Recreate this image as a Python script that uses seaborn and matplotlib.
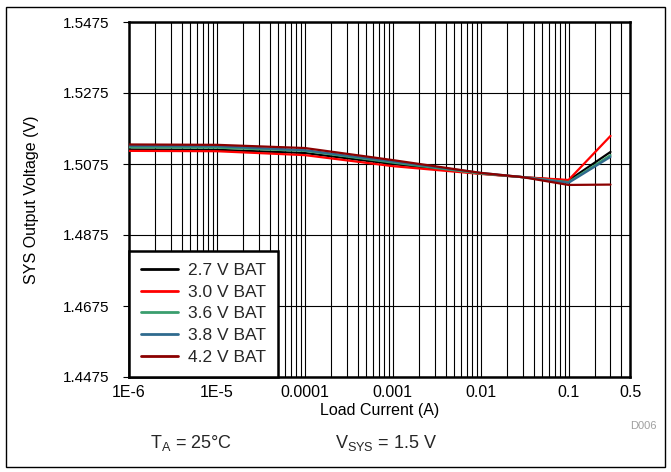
import numpy as np
import pandas as pd
import seaborn as sns
import matplotlib
matplotlib.use("Agg")
import matplotlib.pyplot as plt
from matplotlib.ticker import FixedLocator, NullFormatter, LogLocator
from matplotlib.patches import Rectangle

# ---- data ----
current = [1e-6, 1e-5, 1e-4, 1e-3, 1e-2, 3e-2, 0.1, 0.3]
v_27 = [1.5116, 1.5115, 1.5106, 1.5075, 1.5048, 1.5038, 1.50285, 1.5109]
v_30 = [1.5112, 1.5111, 1.5100, 1.5069, 1.5047, 1.5038, 1.5030, 1.5154]
v_36 = [1.5122, 1.5121, 1.5112, 1.5079, 1.5048, 1.5038, 1.5024, 1.5100]
v_38 = [1.5126, 1.5125, 1.5114, 1.5082, 1.5050, 1.5038, 1.5022, 1.5095]
v_42 = [1.5130, 1.5129, 1.5120, 1.5086, 1.5050, 1.5038, 1.5016, 1.5017]
series_labels = ["2.7 V BAT", "3.0 V BAT", "3.6 V BAT", "3.8 V BAT", "4.2 V BAT"]
colors = ["#000000", "#FF0000", "#3A9E6E", "#2F6A8E", "#8B0000"]
x_ticks = [1e-6, 1e-5, 1e-4, 1e-3, 1e-2, 0.1, 0.5]
x_tick_labels = ["1E-6", "1E-5", "0.0001", "0.001", "0.01", "0.1", "0.5"]
y_ticks = [1.4475, 1.4675, 1.4875, 1.5075, 1.5275, 1.5475]
y_tick_labels = ["1.4475", "1.4675", "1.4875", "1.5075", "1.5275", "1.5475"]

rows = []
for lab, vals in zip(series_labels, [v_27, v_30, v_36, v_38, v_42]):
    for c, v in zip(current, vals):
        rows.append({"Load Current (A)": c, "V": v, "Series": lab})
df = pd.DataFrame(rows)

sns.set_style("white")
plt.rcParams["font.family"] = ["Liberation Sans", "DejaVu Sans"]
plt.rcParams["mathtext.fontset"] = "custom"
plt.rcParams["mathtext.rm"] = "Liberation Sans"

fig = plt.figure(figsize=(6.71, 4.72), dpi=100)
ax = fig.add_axes([129/671, 1-377/472, (630-129)/671, (377-22)/472])

sns.lineplot(data=df, x="Load Current (A)", y="V", hue="Series",
             palette=dict(zip(series_labels, colors)), hue_order=series_labels,
             linewidth=1.6, ax=ax, legend=True, zorder=3)

ax.set_xscale("log")
ax.set_xlim(1e-6, 0.5)
ax.set_ylim(1.4475, 1.5475)

ax.xaxis.set_major_locator(FixedLocator(x_ticks))
ax.set_xticklabels(x_tick_labels)
ax.xaxis.set_minor_locator(LogLocator(base=10, subs=np.arange(2, 10), numticks=20))
ax.xaxis.set_minor_formatter(NullFormatter())
ax.yaxis.set_major_locator(FixedLocator(y_ticks))
ax.set_yticklabels(y_tick_labels)

ax.grid(True, which="major", axis="both", color="black", linewidth=0.8)
ax.grid(True, which="minor", axis="x", color="black", linewidth=0.8)
ax.set_axisbelow(True)

ax.tick_params(axis="x", which="both", length=0, labelsize=11.5, pad=6, colors="black")
ax.tick_params(axis="y", which="major", length=4, width=0.8, labelsize=11, pad=10,
               left=True, colors="black")
for t in ax.get_xticklabels() + ax.get_yticklabels():
    t.set_color("black")

for sp in ax.spines.values():
    sp.set_visible(True)
    sp.set_color("black")
    sp.set_linewidth(1.8)

ax.set_xlabel("Load Current (A)", fontsize=11.5, labelpad=2, color="black")
ax.set_ylabel("SYS Output Voltage (V)", fontsize=11.5, labelpad=17, color="black")

leg = ax.legend(title=None, loc="lower left", borderaxespad=0, fancybox=False,
                framealpha=1, edgecolor="black", fontsize=12.5,
                handlelength=2.1, handletextpad=0.6, labelspacing=0.38,
                borderpad=0.7)
leg.get_frame().set_linewidth(1.8)
for line in leg.get_lines():
    line.set_linewidth(2.0)
leg.set_zorder(5)

fig.text(150/671, 1-443/472, r"T$_\mathregular{A}$ = 25°C", fontsize=13,
         va="center", ha="left")
fig.text(335/671, 1-443/472, r"V$_\mathregular{SYS}$ = 1.5 V", fontsize=13,
         va="center", ha="left")
fig.text(657/671, 1-426/472, "D006", fontsize=8, color="#A0A0A0",
         va="center", ha="right")

fig.patches.append(Rectangle((6/671, 1-467/472), 659/671, 460/472,
                             transform=fig.transFigure, fill=False,
                             edgecolor="black", linewidth=1.0))

fig.savefig("out.png", dpi=100)
